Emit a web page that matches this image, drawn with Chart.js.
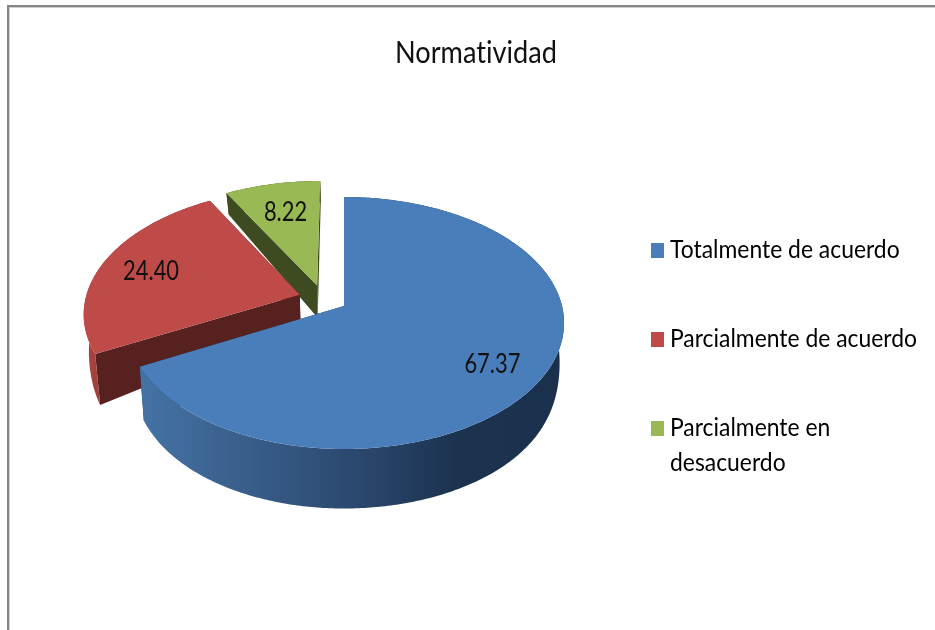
<!DOCTYPE html>
<html><head><meta charset="utf-8">
<style>
html,body{margin:0;padding:0;background:#fff;width:935px;height:630px;overflow:hidden}
#frame{position:absolute;left:7px;top:5px;right:0;bottom:0;border-left:2px solid #858585;border-top:2px solid #858585;box-shadow:inset 1px 1px 0 #d0d0d0}
canvas{position:absolute;left:0;top:0}
</style>
<script src="https://cdn.jsdelivr.net/npm/chart.js@4"></script>
</head><body>
<div id="frame"></div>
<canvas id="c" width="935" height="630"></canvas>
<script>
const chartTitle = 'Normatividad';
const categories = ['Totalmente de acuerdo', 'Parcialmente de acuerdo', 'Parcialmente en desacuerdo'];
const legendLines = ['Totalmente de acuerdo', 'Parcialmente de acuerdo', ['Parcialmente en', 'desacuerdo']];
const values = [67.37, 24.40, 8.22];
const sliceColors = ['#4a7ebb', '#be4b48', '#98b954'];
const cutColors = ['#1b304d', '#57211f', '#3e4b20'];

const FONT = 'Lato,"Liberation Sans",sans-serif';
const INK = '#111';
const anchor = {x: 344, y: 306};
const tilt = {flat: 0.5674, persp: 0.135, taper: 0.02, left: 0.99};
const depthGain = [1, 1, 1.25];
const labelRadial = [0.78, 0.747, 0.697];
const labelSweep = [0.515, 0.486, 0.51];
const TITLE_SIZE = 30, LEGEND_SIZE = 25, LABEL_SIZE = 27;

const probe = document.createElement('canvas').getContext('2d');
function squeeze(text, size, width) {
  probe.font = size + 'px ' + FONT;
  probe.letterSpacing = '0.01px';
  return width / probe.measureText(text).width;
}
const titleSqueeze = squeeze(chartTitle, TITLE_SIZE, 162);
const legendSqueeze = squeeze('Parcialmente de acuerdo', LEGEND_SIZE, 247);
const labelSqueeze = squeeze('67.37', LABEL_SIZE, 56);
const swatchW = Math.round(13 / legendSqueeze);
const markW = Math.max(0.5, 2 * (19 / legendSqueeze - LEGEND_SIZE / 2 - swatchW / 2));
const LEGEND_PAD = 64;

function depth(v) { return 38.5 + 21.5 * Math.tanh((v - 0.1) * 2.5); }

function makeProjector(arcs) {
  const a0 = arcs[0];
  const mid = (a0.startAngle + a0.endAngle) / 2;
  const off = a0.options.offset;
  const ox = a0.x + off * Math.cos(mid), oy = a0.y + off * Math.sin(mid);
  const R = a0.outerRadius;
  return function (px, py, gain) {
    const v = (py - oy) / R;
    const w = 1 / (1 - tilt.persp * v);
    const side = px < ox ? tilt.left : 1;
    const x = anchor.x + (px - ox) * w * side;
    const y = anchor.y + tilt.flat * R * v * w;
    return {x, y, bx: x + (anchor.x - x) * tilt.taper, by: y + depth(v) * (gain || 1)};
  };
}
function slicePoints(arc, project, gain) {
  const mid = (arc.startAngle + arc.endAngle) / 2;
  const off = arc.options.offset;
  const cx = arc.x + off * Math.cos(mid), cy = arc.y + off * Math.sin(mid);
  const n = Math.max(8, Math.ceil((arc.endAngle - arc.startAngle) / 0.012));
  const rim = [];
  for (let i = 0; i <= n; i++) {
    const t = arc.startAngle + (arc.endAngle - arc.startAngle) * i / n;
    rim.push(project(cx + arc.outerRadius * Math.cos(t), cy + arc.outerRadius * Math.sin(t), gain));
  }
  return {apex: project(cx, cy, gain), rim, cx, cy};
}
function poly(ctx, pts, fill) {
  ctx.beginPath();
  pts.forEach((p, i) => i ? ctx.lineTo(p[0], p[1]) : ctx.moveTo(p[0], p[1]));
  ctx.closePath();
  ctx.fillStyle = fill;
  ctx.fill();
}
function wallFill(ctx, i) {
  if (i === 0) {
    const g = ctx.createLinearGradient(145, 0, 560, 0);
    g.addColorStop(0, '#4472a4');
    g.addColorStop(0.45, '#2e4d74');
    g.addColorStop(0.75, '#1c3350');
    g.addColorStop(1, '#1a304c');
    return g;
  }
  if (i === 1) {
    const g = ctx.createLinearGradient(84, 0, 110, 0);
    g.addColorStop(0, '#b0473f');
    g.addColorStop(1, '#8f3a36');
    return g;
  }
  return cutColors[i];
}
function wrapDraw(box, place) {
  const orig = box.draw;
  box.draw = function (area) {
    const ctx = box.ctx;
    ctx.save();
    ctx.letterSpacing = '0.01px';
    place(ctx);
    orig.call(box, area);
    ctx.restore();
  };
}
const pie3d = {
  id: 'pie3d',
  beforeLayout(chart) {
    if (chart.$wrapped) return;
    chart.$wrapped = true;
    wrapDraw(chart.titleBlock, ctx => {
      const t = chart.titleBlock;
      ctx.translate(476, 0);
      ctx.scale(titleSqueeze, 1);
      ctx.translate(-(t.left + t.width / 2), 0);
    });
    wrapDraw(chart.legend, ctx => {
      const l = chart.legend;
      ctx.translate(651, 0);
      ctx.scale(legendSqueeze, 1);
      ctx.translate(-(l.left + LEGEND_PAD + markW / 2 - swatchW / 2), 0);
    });
  },
  beforeDatasetDraw() { return false; },
  afterDatasetsDraw(chart) {
    const ctx = chart.ctx;
    const arcs = chart.getDatasetMeta(0).data;
    const project = makeProjector(arcs);
    ctx.save();
    [2, 1, 0].forEach(i => {
      const s = slicePoints(arcs[i], project, depthGain[i]);
      const first = s.rim[0], last = s.rim[s.rim.length - 1];
      const edge = p => [[s.apex.x, s.apex.y], [p.x, p.y], [p.bx, p.by], [s.apex.bx, s.apex.by]];
      poly(ctx, edge(first), cutColors[i]);
      poly(ctx, edge(last), cutColors[i]);
      const wall = s.rim.map(p => [p.x, p.y]).concat(s.rim.slice().reverse().map(p => [p.bx, p.by]));
      poly(ctx, wall, wallFill(ctx, i));
      poly(ctx, [[s.apex.x, s.apex.y]].concat(s.rim.map(p => [p.x, p.y])), arcs[i].options.backgroundColor);
    });
    ctx.font = LABEL_SIZE + 'px ' + FONT;
    ctx.fillStyle = INK;
    ctx.textAlign = 'center';
    ctx.textBaseline = 'middle';
    arcs.forEach((arc, i) => {
      const s = slicePoints(arc, project);
      const t = arc.startAngle + (arc.endAngle - arc.startAngle) * labelSweep[i];
      const r = arc.outerRadius * labelRadial[i];
      const p = project(s.cx + r * Math.cos(t), s.cy + r * Math.sin(t));
      ctx.save();
      ctx.translate(p.x, p.y);
      ctx.scale(labelSqueeze, 1);
      ctx.fillText(values[i].toFixed(2), 0, 0);
      ctx.restore();
    });
    ctx.restore();
  }
};
function swatch(color) {
  const c = document.createElement('canvas');
  c.width = swatchW; c.height = 15;
  const x = c.getContext('2d');
  x.fillStyle = color;
  x.fillRect(0, 0, swatchW, 15);
  return c;
}
new Chart(document.getElementById('c'), {
  type: 'pie',
  plugins: [pie3d],
  data: {
    labels: categories,
    datasets: [{data: values, backgroundColor: sliceColors, borderWidth: 0, offset: 25, radius: 218}]
  },
  options: {
    responsive: false,
    animation: false,
    layout: {padding: {left: 0, right: 0, top: 0, bottom: 80.5}},
    plugins: {
      tooltip: {enabled: false},
      title: {
        display: true, text: chartTitle, color: INK,
        font: {family: FONT, size: TITLE_SIZE, weight: 'normal', lineHeight: 1.2},
        padding: {top: 35, bottom: 0}
      },
      legend: {
        display: true, position: 'right', align: 'end',
        labels: {
          color: INK,
          font: {family: FONT, size: LEGEND_SIZE, lineHeight: '35px'},
          padding: LEGEND_PAD,
          usePointStyle: true,
          pointStyleWidth: markW,
          generateLabels: () => legendLines.map((text, i) => ({
            text, fillStyle: sliceColors[i], strokeStyle: sliceColors[i], lineWidth: 0,
            pointStyle: swatch(sliceColors[i]), hidden: false, index: i
          }))
        }
      }
    }
  }
});
</script>
</body></html>
